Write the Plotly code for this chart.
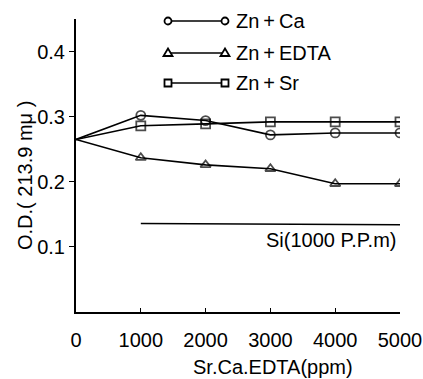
import plotly.graph_objects as go

x_vals = [0, 1000, 2000, 3000, 4000, 5000]
zn_ca = [0.265, 0.302, 0.294, 0.272, 0.275, 0.275]
zn_edta = [0.265, 0.237, 0.226, 0.220, 0.197, 0.197]
zn_sr = [0.265, 0.286, 0.289, 0.292, 0.292, 0.292]
si_x = [1000, 5000]
si_y = [0.136, 0.134]

series_names = ["Zn\u2009+\u2009Ca", "Zn\u2009+\u2009EDTA", "Zn\u2009+\u2009Sr"]
series_vals = [zn_ca, zn_edta, zn_sr]
symbols = ["circle-open", "triangle-up-open", "square-open"]
x_ticks = [0, 1000, 2000, 3000, 4000, 5000]
y_ticks = [0.1, 0.2, 0.3, 0.4]

FONT = "Liberation Sans"
FS = 20
fig = go.Figure()

for name, vals, sym in zip(series_names, series_vals, symbols):
    sizes = [0] + [9] * (len(vals) - 1)
    fig.add_trace(go.Scatter(
        x=x_vals, y=vals, mode="lines+markers", name=name,
        line=dict(color="black", width=1.6),
        marker=dict(symbol=sym, size=sizes, color="black",
                    line=dict(color="black", width=1.8)),
        showlegend=False,
    ))

fig.add_trace(go.Scatter(x=si_x, y=si_y, mode="lines",
                         line=dict(color="black", width=1.6), showlegend=False))

fig.add_annotation(x=si_x[1], y=si_y[1], text="Si(1000 P.P.m)", showarrow=False,
                   xanchor="right", yanchor="top", xshift=-2, yshift=-2,
                   font=dict(family=FONT, size=FS, color="black"))

# legend drawn manually (paper coordinates)
W, H = 423, 379
ml, mr, mt, mb = 76, 23, 19, 67
pw, ph = W - ml - mr, H - mt - mb

def px(xp):
    return (xp - ml) / pw

def py(yp):
    return (H - mb - yp) / ph

rows = [21, 53, 83]
x1, x2 = 168, 225
shapes = []
for (name, sym), yr in zip(zip(series_names, symbols), rows):
    shapes.append(dict(type="line", xref="paper", yref="paper",
                       x0=px(x1), x1=px(x2), y0=py(yr), y1=py(yr),
                       line=dict(color="black", width=1.6)))
    for xc in (x1, x2):
        r = 3.5
        if sym.startswith("circle"):
            shapes.append(dict(type="circle", xref="paper", yref="paper",
                               x0=px(xc - r), x1=px(xc + r), y0=py(yr + r), y1=py(yr - r),
                               line=dict(color="black", width=1.8), fillcolor="white"))
        elif sym.startswith("square"):
            shapes.append(dict(type="rect", xref="paper", yref="paper",
                               x0=px(xc - r), x1=px(xc + r), y0=py(yr + r), y1=py(yr - r),
                               line=dict(color="black", width=1.8), fillcolor="white"))
        else:
            path = "M {} {} L {} {} L {} {} Z".format(
                px(xc - 4.5), py(yr + 3), px(xc + 4.5), py(yr + 3), px(xc), py(yr - 4.5))
            shapes.append(dict(type="path", xref="paper", yref="paper", path=path,
                               line=dict(color="black", width=1.8), fillcolor="white"))
    fig.add_annotation(xref="paper", yref="paper", x=px(234), y=py(yr), text=name,
                       showarrow=False, xanchor="left", yanchor="middle",
                       font=dict(family=FONT, size=FS, color="black"))

# axis titles as annotations
fig.add_annotation(xref="paper", yref="paper", x=px(25), y=py(176),
                   text="O.D.( 213.9 mμ )", textangle=-90, showarrow=False,
                   xanchor="center", yanchor="middle",
                   font=dict(family=FONT, size=FS, color="black"))
fig.add_annotation(xref="paper", yref="paper", x=px(273), y=py(367),
                   text="Sr.Ca.EDTA(ppm)", showarrow=False,
                   xanchor="center", yanchor="middle",
                   font=dict(family=FONT, size=FS, color="black"))

fig.update_layout(
    width=W, height=H,
    margin=dict(l=ml, r=mr, t=mt, b=mb, pad=0),
    paper_bgcolor="white", plot_bgcolor="white",
    shapes=shapes,
    font=dict(family=FONT, size=FS, color="black"),
    xaxis=dict(range=[0, 5000], tickvals=x_ticks, ticktext=[str(v) for v in x_ticks],
               showgrid=False, zeroline=False, showline=True, linecolor="black",
               linewidth=2, ticks="inside", ticklen=4, tickcolor="black",
               tickfont=dict(family=FONT, size=FS), ticklabelstandoff=9,
               automargin=False),
    yaxis=dict(range=[0, 0.45], tickvals=y_ticks, ticktext=["0.1", "0.2", "0.3", "0.4"],
               showgrid=False, zeroline=False, showline=True, linecolor="black",
               linewidth=2, ticks="outside", ticklen=5, tickcolor="black",
               tickfont=dict(family=FONT, size=FS), automargin=False),
)

fig.write_html("out.html")
